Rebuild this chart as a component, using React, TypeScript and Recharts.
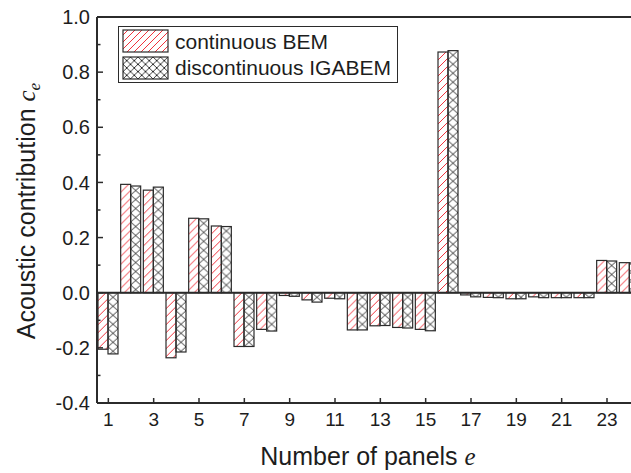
import { BarChart, Bar, XAxis, YAxis, ReferenceLine, Legend, Label } from "recharts";

const FONT = '"Liberation Sans", Arial, Helvetica, sans-serif';
const SERIF = '"Liberation Serif", "Times New Roman", serif';
const INK = "#1d1d1d";
const EDGE = "#2b2b2b";
const RED = "#f0323c";

// panel numbers e
const panels = [
  "1", "2", "3", "4", "5", "6", "7", "8", "9", "10", "11", "12",
  "13", "14", "15", "16", "17", "18", "19", "20", "21", "22", "23", "24",
];

// continuous BEM
const bemValues = [
  -0.205, 0.393, 0.372, -0.236, 0.27, 0.242, -0.195, -0.133, -0.01, -0.026, -0.02, -0.135,
  -0.12, -0.126, -0.133, 0.873, -0.008, -0.017, -0.022, -0.015, -0.018, -0.018, 0.117, 0.109,
];

// discontinuous IGABEM
const igaValues = [
  -0.222, 0.387, 0.383, -0.215, 0.268, 0.24, -0.195, -0.139, -0.013, -0.034, -0.022, -0.135,
  -0.119, -0.128, -0.138, 0.878, -0.015, -0.018, -0.022, -0.018, -0.018, -0.018, 0.115, 0.108,
];

const yTicks = [-0.4, -0.3, -0.2, -0.1, 0, 0.1, 0.2, 0.3, 0.4, 0.5, 0.6, 0.7, 0.8, 0.9, 1.0];

const data = panels.map((p, i) => ({ panel: p, bem: bemValues[i], iga: igaValues[i] }));

function XTick({ x, y, payload }: any) {
  return (
    <g>
      <line x1={x} y1={y} x2={x} y2={y - 5} stroke={EDGE} strokeWidth={1.5} />
      <text x={x} y={y + 23} textAnchor="middle" fontSize={19} fontFamily={FONT} fill={INK}>
        {payload.value}
      </text>
    </g>
  );
}

function YTick({ x, y, payload }: any) {
  const v = payload.value as number;
  const major = Math.round(v * 10) % 2 === 0;
  return (
    <g>
      <line x1={x} y1={y} x2={x + (major ? 6 : 3.5)} y2={y} stroke={EDGE} strokeWidth={1.5} />
      {major && (
        <text x={x - 7} y={y} dy="0.36em" textAnchor="end" fontSize={20} fontFamily={FONT} fill={INK}>
          {v.toFixed(1)}
        </text>
      )}
    </g>
  );
}

function boxOf(props: any) {
  const { x, y, width, height } = props;
  const top = height < 0 ? y + height : y;
  return { x, top, width, h: Math.abs(height) };
}

function HatchBar(props: any) {
  if (props.width == null || props.height == null) return null;
  const { x, top, width, h } = boxOf(props);
  const id = `rh-${props.index}`;
  return (
    <g>
      <defs>
        <pattern id={id} patternUnits="userSpaceOnUse" x={x} y={top} width={8} height={8}>
          <path d="M-1,1 L1,-1 M0,8 L8,0 M7,9 L9,7" stroke={RED} strokeWidth={1} fill="none" />
        </pattern>
      </defs>
      <rect x={x} y={top} width={width} height={h} fill={`url(#${id})`} stroke={EDGE} strokeWidth={1.2} />
    </g>
  );
}

function CrossBar(props: any) {
  if (props.width == null || props.height == null) return null;
  const { x, top, width, h } = boxOf(props);
  const id = `xh-${props.index}`;
  return (
    <g>
      <defs>
        <pattern id={id} patternUnits="userSpaceOnUse" x={x} y={top} width={width} height={9}>
          <path d={`M0,0 L${width},9 M${width},0 L0,9`} stroke="#222" strokeWidth={0.9} fill="none" />
        </pattern>
      </defs>
      <rect x={x} y={top} width={width} height={h} fill={`url(#${id})`} stroke={EDGE} strokeWidth={1.2} />
    </g>
  );
}

function LegendBox() {
  return (
    <svg width={281} height={57} style={{ display: "block" }}>
      <defs>
        <pattern id="lgRed" patternUnits="userSpaceOnUse" width={7} height={7}>
          <path d="M-1,1 L1,-1 M0,7 L7,0 M6,8 L8,6" stroke={RED} strokeWidth={1} />
        </pattern>
        <pattern id="lgCross" patternUnits="userSpaceOnUse" x={5} y={31} width={7.5} height={7.3}>
          <path d="M0,0 L7.5,7.3 M7.5,0 L0,7.3" stroke="#222" strokeWidth={0.9} fill="none" />
        </pattern>
      </defs>
      <rect x={0.5} y={0.5} width={279} height={56} fill="#fff" stroke={EDGE} strokeWidth={1} />
      <rect x={5} y={4} width={45} height={22} fill="url(#lgRed)" stroke={EDGE} strokeWidth={1.2} />
      <rect x={5} y={31} width={45} height={22} fill="url(#lgCross)" stroke={EDGE} strokeWidth={1.2} />
      <text x={57} y={23} fontSize={21} fontFamily={FONT} fill={INK}>continuous BEM</text>
      <text x={57} y={49} fontSize={21} fontFamily={FONT} fill={INK}>discontinuous IGABEM</text>
    </svg>
  );
}

export default function App() {
  return (
    <div
      style={{
        position: "absolute",
        left: 0,
        top: 0,
        width: 631,
        height: 473,
        overflow: "hidden",
        background: "#fff",
      }}
    >
      <BarChart
        width={660}
        height={473}
        data={data}
        margin={{ top: 17, right: 19, bottom: 0, left: 0 }}
        barSize={10}
        barGap={0}
      >
        <XAxis
          dataKey="panel"
          height={70}
          interval={1}
          tickSize={0}
          tickMargin={0}
          tickLine={false}
          tick={<XTick />}
          axisLine={{ stroke: EDGE, strokeWidth: 2 }}
        >
          <Label
            content={({ viewBox }: any) => (
              <text
                x={viewBox.x + viewBox.width / 2 - 1}
                y={viewBox.y + 62}
                textAnchor="middle"
                fontSize={25}
                fontFamily={FONT}
                fill={INK}
              >
                Number of panels{" "}
                <tspan fontFamily={SERIF} fontStyle="italic">e</tspan>
              </text>
            )}
          />
        </XAxis>
        <YAxis
          width={97}
          type="number"
          domain={[-0.4, 1.0]}
          ticks={yTicks}
          interval={0}
          tickSize={0}
          tickMargin={0}
          tickLine={false}
          tick={<YTick />}
          axisLine={{ stroke: EDGE, strokeWidth: 2 }}
        >
          <Label
            content={({ viewBox }: any) => {
              const cx = 35;
              const cy = viewBox.y + viewBox.height / 2 + 1;
              return (
                <text
                  x={cx}
                  y={cy}
                  transform={`rotate(-90, ${cx}, ${cy})`}
                  textAnchor="middle"
                  fontSize={25}
                  fontFamily={FONT}
                  fill={INK}
                >
                  Acoustic contribution{" "}
                  <tspan fontFamily={SERIF} fontStyle="italic">c</tspan>
                  <tspan fontFamily={SERIF} fontStyle="italic" fontSize={17} dy={5}>e</tspan>
                </text>
              );
            }}
          />
        </YAxis>
        <Legend
          layout="vertical"
          align="center"
          verticalAlign="middle"
          width={281}
          height={57}
          wrapperStyle={{ left: 118, top: 26 }}
          content={() => <LegendBox />}
        />
        <Bar dataKey="bem" name="continuous BEM" shape={HatchBar} isAnimationActive={false} />
        <Bar dataKey="iga" name="discontinuous IGABEM" shape={CrossBar} isAnimationActive={false} />
        <ReferenceLine y={0} stroke={EDGE} strokeWidth={2} />
        <ReferenceLine y={1.0} stroke={EDGE} strokeWidth={2} />
      </BarChart>
    </div>
  );
}
